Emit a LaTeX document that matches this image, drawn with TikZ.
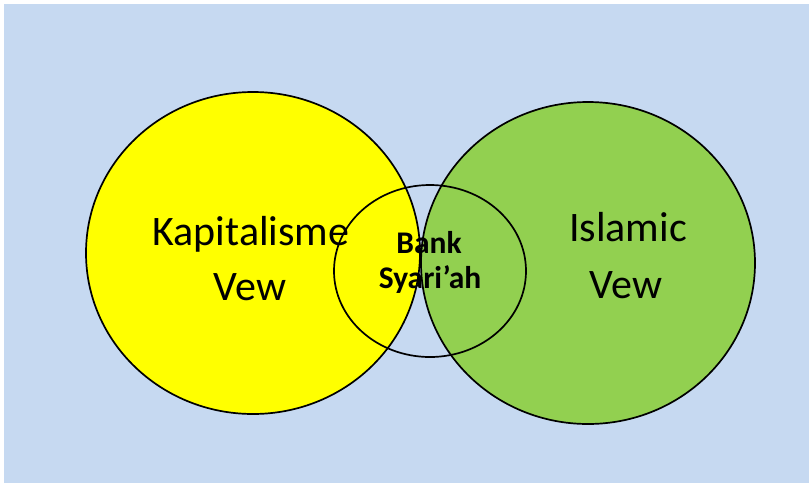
\documentclass[tikz,border=0pt]{standalone}
\usepackage{fontspec}
\setmainfont{Carlito}
\definecolor{bgblue}{HTML}{C6D9F1}
\definecolor{vyellow}{HTML}{FFFF00}
\definecolor{vgreen}{HTML}{92D050}
\begin{document}
\begin{tikzpicture}[x=1pt,y=-1pt,
  ring/.style={draw=black,line width=1.7pt},
  bigtext/.style={font=\fontsize{42}{55}\selectfont,anchor=base,inner sep=0pt},
  smalltext/.style={font=\fontsize{31.5}{35}\selectfont\bfseries,anchor=base,inner sep=0pt}]
\useasboundingbox (0,0) rectangle (809,483);
\fill[white] (0,0) rectangle (809,483);
\fill[bgblue] (4,4) rectangle (809,483);
\draw[ring,fill=vyellow] (253,253) ellipse [x radius=167,y radius=161];
\draw[ring,fill=vgreen] (588,263) ellipse [x radius=167,y radius=161];
\draw[ring] (430,271) ellipse [x radius=96,y radius=86];
\node[bigtext] (k1) at (251,245) {Kapitalisme};
\node[bigtext] (k2) at (250,300) {Vew};
\node[bigtext] (i1) at (628,241) {Islamic};
\node[bigtext] (i2) at (626,298) {Vew};
\node[smalltext] (b1) at (429,253) {Bank};
\node[smalltext] (b2) at (430,288) {Syari’ah};
\end{tikzpicture}
\end{document}
